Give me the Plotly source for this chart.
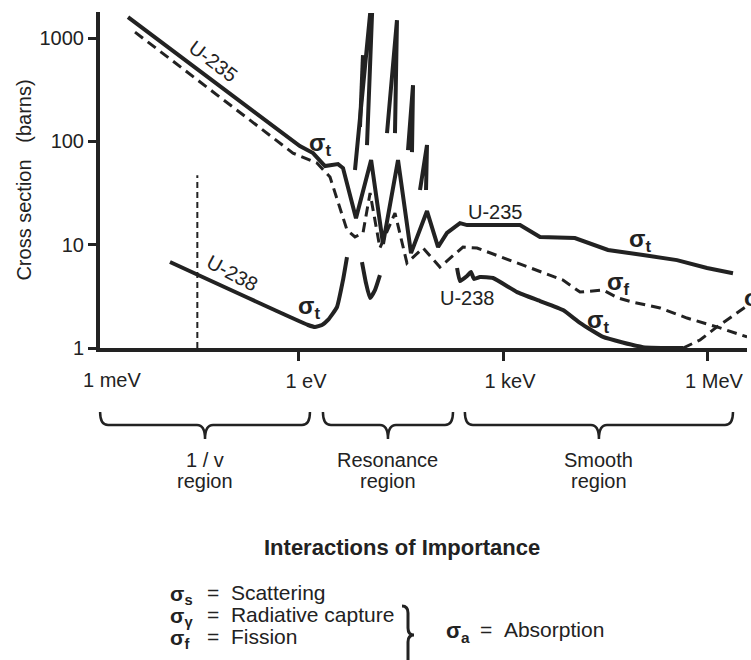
import numpy as np
import plotly.graph_objects as go

# ---------------- data (energy in eV, cross section in barns) ----------------
u235_total_E = [0.00306, 1.03, 1.61, 2.41, 3.75, 4.44, 6.89, 11.5, 17.2, 28.6, 44.4,
                76.3, 111, 150, 233, 296, 1780, 3500, 11400, 35000, 114500, 362000,
                1.0e6, 2.41e6]
u235_total_s = [1600, 90.2, 77.2, 57.8, 60.4, 55.3, 18.1, 66.1, 10.2, 66.1, 8.3,
                21.2, 9.5, 13.0, 16.2, 15.5, 15.5, 11.9, 11.6, 8.9, 7.95, 7.1,
                5.95, 5.3]

u235_fission_E = [0.00388, 0.816, 1.84, 2.86, 5.08, 6.66, 8.73, 11.1, 15.5, 25.8, 38.7,
                  66.6, 118, 258, 415, 1607, 7620, 13550, 29600, 49100, 78900,
                  204000, 508000, 1.40e6, 3.88e6]
u235_fission_s = [1146, 77.2, 61.8, 45.2, 13.9, 11.9, 13.0, 31.7, 9.3, 20.3, 6.65,
                  9.3, 6.08, 9.5, 9.3, 6.65, 4.55, 3.48, 3.64, 3.05, 2.79,
                  2.44, 1.95, 1.60, 1.28]

# U-235 resonance peaks drawn above the curve (None separates peaks)
u235_peaks_E = [6.66, 11.07, 11.85, 10.0, None, 8.73, 7.89, None,
                19.7, 27.6, 25.8, None, 40.1, 47.5, 45.9, None, 60.2, 76.3, 73.8]
u235_peaks_s = [52.9, 1674, 1674, 92.3, None, 686, 138, None,
                120.6, 1496, 120.6, None, 82.6, 351, 78.9, None, 33.9, 92.3, 33.9]

u238_total_E = [0.01268, 1.36, 1.72, 2.18, 2.67, 3.62, 4.44, 5.08, None,
                8.44, 9.66, 11.07, 13.1, 15.5, None,
                211, 233, 296, 338, 375, 459, 713, 1607, 3500, 7620, 13550,
                29580, 114500, 444000]
u238_total_s = [6.80, 1.67, 1.60, 1.67, 1.87, 2.49, 4.55, 7.60, None,
                6.80, 4.26, 3.05, 3.64, 5.09, None,
                5.95, 4.45, 4.98, 5.44, 4.66, 4.86, 4.76, 3.48, 2.85, 2.33, 1.75,
                1.28, 1.02, 1.0]

u238_fission_E = [444000, 789000, 1.40e6, 3.87e6]
u238_fission_s = [1.0, 1.195, 1.60, 2.55]

thermal_E = [0.032, 0.032]
thermal_s = [1.0, 47]

x_tick_vals = [1, 1e3, 1e6]
x_tick_text = ["1 eV", "1 keV", "1 MeV"]
y_tick_vals = [1, 10, 100, 1000]
y_tick_text = ["1", "10", "100", "1000"]

# regions (energy bounds in eV) and their labels
region_bounds = [(0.00119, 1.45), (2.25, 184), (275, 2.41e6)]
region_labels = [("1 / v", "region"), ("Resonance", "region"), ("Smooth", "region")]

INK = "#222222"
FONT = "Liberation Sans, Arial, sans-serif"
X_RANGE = [-2.926, 6.588]
Y_RANGE = [0.0, 3.254]

W, H = 751, 660
ML, MR, MT, MB = 100, 4, 12, 312
PW, PH = W - ML - MR, H - MT - MB


def xp(px):
    return (px - ML) / PW


def yp(py):
    return (H - MB - py) / PH


def xe(E):
    return (np.log10(E) - X_RANGE[0]) / (X_RANGE[1] - X_RANGE[0])


fig = go.Figure()
fig.add_trace(go.Scatter(x=u235_total_E, y=u235_total_s, mode="lines",
                         line=dict(color=INK, width=4), name="U-235 σt"))
fig.add_trace(go.Scatter(x=u235_peaks_E, y=u235_peaks_s, mode="lines",
                         line=dict(color=INK, width=4), name="U-235 peaks"))
fig.add_trace(go.Scatter(x=u235_fission_E, y=u235_fission_s, mode="lines",
                         line=dict(color=INK, width=3, dash="10px,6px"), name="U-235 σf"))
fig.add_trace(go.Scatter(x=u238_total_E, y=u238_total_s, mode="lines",
                         line=dict(color=INK, width=4, shape="spline", smoothing=0.4),
                         connectgaps=False, name="U-238 σt"))
fig.add_trace(go.Scatter(x=u238_fission_E, y=u238_fission_s, mode="lines",
                         line=dict(color=INK, width=3, dash="10px,6px"), name="U-238 σf",
                         cliponaxis=False))
fig.add_trace(go.Scatter(x=thermal_E, y=thermal_s, mode="lines",
                         line=dict(color=INK, width=2, dash="6px,4px"), name="thermal",
                         cliponaxis=False))

ann = []


def lab(text, E, s, size=20, angle=0, **kw):
    ann.append(dict(x=np.log10(E), y=np.log10(s), xref="x", yref="y", text=text,
                    showarrow=False, textangle=angle,
                    font=dict(size=size, color=INK, family=FONT), **kw))


SIG = "<b>σ<sub>%s</sub></b>"
lab("U-235", 0.0543, 600, angle=37)
lab("U-238", 0.1035, 5.32, angle=28)
lab(SIG % "t", 2.04, 94.4, size=24)
lab(SIG % "t", 1.40, 2.49, size=24)
lab("U-235", 762, 20.7)
lab(SIG % "t", 1.035e5, 11.1, size=24)
lab(SIG % "f", 4.9e4, 4.26, size=24)
lab("U-238", 296, 3.05)
lab(SIG % "t", 24900, 1.79, size=24)


def ptxt(text, px, py, size=20, xanchor="center"):
    ann.append(dict(x=xp(px), y=yp(py), xref="paper", yref="paper", text=text,
                    showarrow=False, xanchor=xanchor, yanchor="middle",
                    font=dict(size=size, color=INK, family=FONT)))


# partially clipped sigma at the right edge
ptxt("<b>σ</b>", 742, 297, size=24, xanchor="left")
# 1 meV label (left end of the axis)
ptxt("1 meV", 112, 380)

# region braces and labels
shapes = []
top, base, cusp = 412, 425, 439
d = 8 / PW
for (e0, e1), (l1, l2) in zip(region_bounds, region_labels):
    x0, x1 = xe(e0), xe(e1)
    xm = (x0 + x1) / 2
    yt, yb, yc = yp(top), yp(base), yp(cusp)
    path = (f"M {x0},{yt} Q {x0},{yb} {x0+d},{yb} L {xm-d},{yb} "
            f"Q {xm},{yb} {xm},{yc} Q {xm},{yb} {xm+d},{yb} "
            f"L {x1-d},{yb} Q {x1},{yb} {x1},{yt}")
    shapes.append(dict(type="path", path=path, xref="paper", yref="paper",
                       line=dict(color=INK, width=2.5)))
    pxm = ML + xm * PW
    ptxt(l1, pxm, 460)
    ptxt(l2, pxm, 481)

# Interactions of importance
ptxt("<b>Interactions of Importance</b>", 402, 547, size=22)
rows = [("s", "Scattering", 595), ("γ", "Radiative capture", 617), ("f", "Fission", 639)]
for sub, txt, py in rows:
    ptxt(SIG % sub, 168, py, size=21, xanchor="left")
    ptxt("=&nbsp;&nbsp;" + txt, 205, py - 3, size=21, xanchor="left")
ptxt(SIG % "a", 444, 632, size=22, xanchor="left")
ptxt("=&nbsp;&nbsp;Absorption", 478, 629, size=21, xanchor="left")

# big right brace grouping the three interactions
bp = (f"M {xp(402)},{yp(606)} Q {xp(408)},{yp(606)} {xp(408)},{yp(613)} "
      f"L {xp(408)},{yp(628)} Q {xp(408)},{yp(635)} {xp(414)},{yp(635)} "
      f"Q {xp(408)},{yp(635)} {xp(408)},{yp(642)} L {xp(408)},{yp(668)}")
shapes.append(dict(type="path", path=bp, xref="paper", yref="paper",
                   line=dict(color=INK, width=3)))

fig.update_layout(
    width=W, height=H, margin=dict(l=ML, r=MR, t=MT, b=MB, pad=0, autoexpand=False),
    paper_bgcolor="white", plot_bgcolor="white", showlegend=False,
    font=dict(family=FONT, color=INK, size=20),
    annotations=ann, shapes=shapes,
)
fig.update_xaxes(type="log", range=X_RANGE, showline=True, linewidth=4, linecolor=INK,
                 ticks="outside", ticklen=9, tickwidth=3, tickcolor=INK,
                 tickvals=x_tick_vals, ticktext=x_tick_text, tickfont=dict(size=20),
                 showgrid=False, zeroline=False, ticklabelstandoff=3, ticklabelshift=7,
                 automargin=False)
fig.update_yaxes(type="log", range=Y_RANGE, showline=True, linewidth=4, linecolor=INK,
                 ticks="outside", ticklen=8, tickwidth=3, tickcolor=INK,
                 tickvals=y_tick_vals, ticktext=y_tick_text, tickfont=dict(size=20),
                 showgrid=False, zeroline=False, ticklabelstandoff=0, automargin=False,
                 title=dict(text="Cross section&nbsp;&nbsp;&nbsp;(barns)", standoff=4,
                            font=dict(size=20)))

fig.write_html("out.html", config={"displayModeBar": False},
               post_script="document.body.style.margin='0';"
                           "document.body.style.overflow='hidden';")
